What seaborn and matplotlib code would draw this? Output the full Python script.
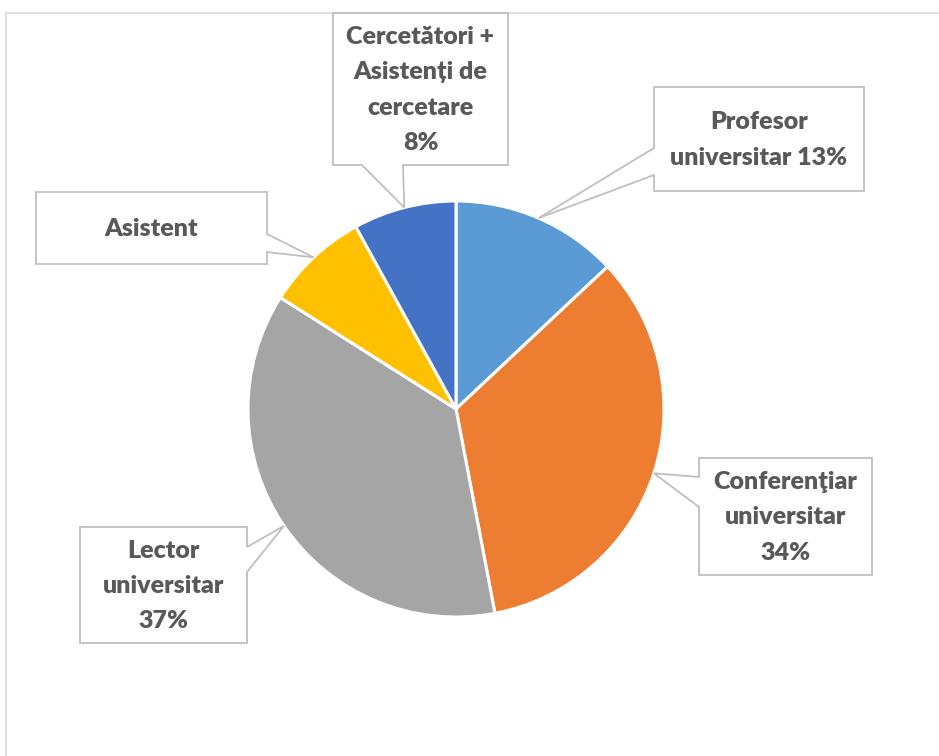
import matplotlib
matplotlib.use("Agg")
import matplotlib.pyplot as plt
import seaborn as sns
import numpy as np
from matplotlib.patches import Polygon

sns.set_theme(style="white")
plt.rcParams['font.family'] = ['Lato', 'DejaVu Sans']

# data (clockwise from 12 o'clock)
categories = ["Profesor universitar", "Conferenţiar universitar", "Lector universitar",
              "Asistent", "Cercetători + Asistenți de cercetare"]
percents = [13, 34, 37, 8, 8]
label_texts = ["Profesor\nuniversitar {}%", "Conferenţiar\nuniversitar\n{}%",
               "Lector\nuniversitar\n{}%", "Asistent",
               "Cercetători +\nAsistenți de\ncercetare\n{}%"]
colors = ["#5B9BD5", "#ED7D31", "#A5A5A5", "#FFC000", "#4472C4"]

W, H = 939, 756
CX, CY, R = 456, 409, 208

# callout layout in image pixels: box (x0, y0, x1, y1), side of pointer, pointer base
callouts = [
    ((654, 87, 864, 191), "left", (148, 175)),
    ((699, 458, 872, 575), "left", (477, 507)),
    ((80, 527, 247, 643), "right", (547, 572)),
    ((36, 192, 267, 264), "right", (234, 252)),
    ((333, 13, 508, 165), "bottom", (362, 403)),
]


def fy(y):
    return H - y


fig = plt.figure(figsize=(W / 100, H / 100), dpi=100)
ax = fig.add_axes([0, 0, 1, 1])

wedges, _ = ax.pie(percents, colors=colors, startangle=90, counterclock=False,
                   center=(CX, fy(CY)), radius=R,
                   wedgeprops=dict(edgecolor="white", linewidth=2.2))
ax.set_xlim(0, W)
ax.set_ylim(0, H)
ax.set_aspect("equal")
ax.axis("off")

# chart frame (cropped on the right and bottom)
ax.plot([6, W], [fy(13), fy(13)], color="#D9D9D9", lw=1.2, zorder=1)
ax.plot([6, 6], [fy(13), 0], color="#D9D9D9", lw=1.2, zorder=1)

for w, tmpl, pct, (box, side, (a, b)) in zip(wedges, label_texts, percents, callouts):
    mid = np.deg2rad((w.theta1 + w.theta2) / 2)
    tip = (CX + R * np.cos(mid), CY - R * np.sin(mid))
    x0, y0, x1, y1 = box
    pts = [(x0, y0)]
    if side == "top":
        pts += [(a, y0), tip, (b, y0)]
    pts.append((x1, y0))
    if side == "right":
        pts += [(x1, a), tip, (x1, b)]
    pts.append((x1, y1))
    if side == "bottom":
        pts += [(b, y1), tip, (a, y1)]
    pts.append((x0, y1))
    if side == "left":
        pts += [(x0, b), tip, (x0, a)]
    poly = Polygon([(px, fy(py)) for px, py in pts], closed=True,
                   facecolor="white", edgecolor="#BFBFBF", lw=1.3, zorder=3)
    ax.add_patch(poly)
    ax.text((x0 + x1) / 2, fy((y0 + y1) / 2 + 1), tmpl.format(pct), ha="center", va="center",
            fontsize=18, fontweight="heavy", color="#595959", linespacing=1.75, zorder=4)

fig.savefig("out.png", dpi=100, facecolor="white")
